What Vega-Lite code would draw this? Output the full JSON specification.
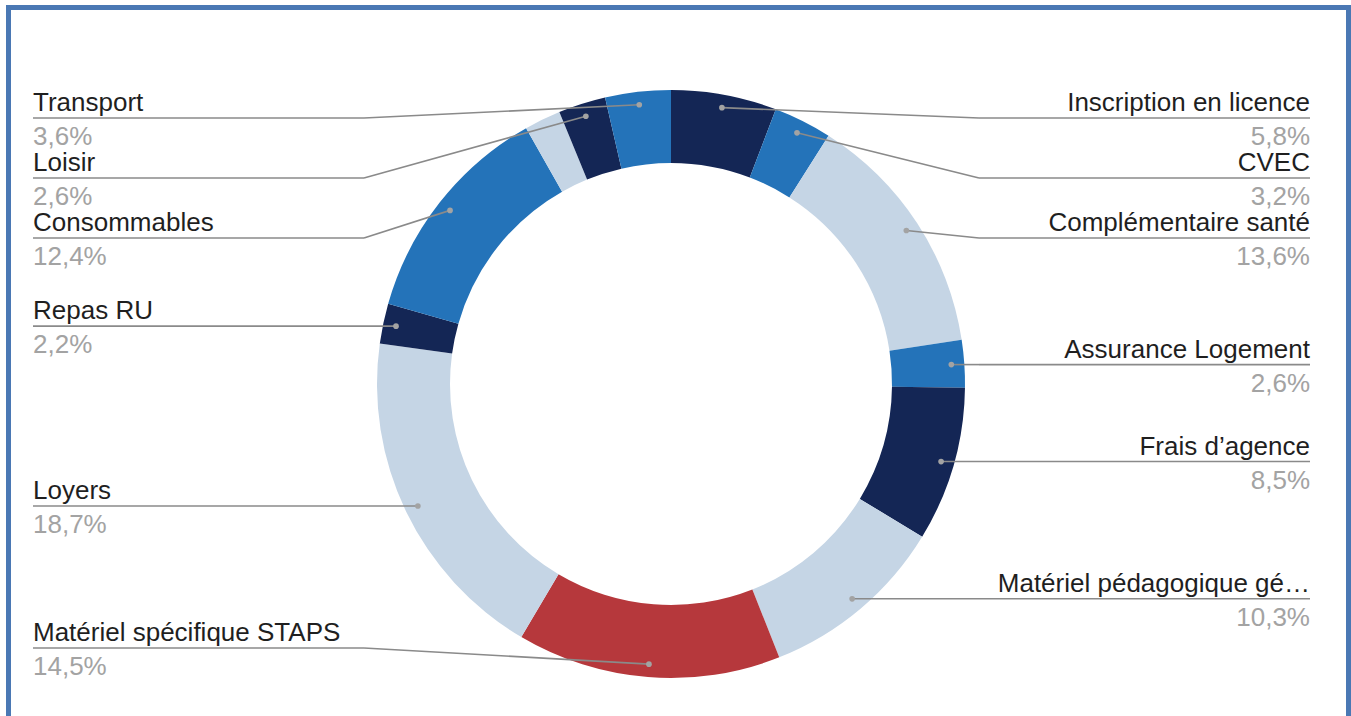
{
  "$schema": "https://vega.github.io/schema/vega-lite/v6.json",
  "width": 1340,
  "height": 711.5,
  "autosize": {"type": "none"},
  "padding": {"left": 8.5, "top": 7.5, "right": 2.5, "bottom": 0},
  "background": "white",
  "config": {
    "view": {"stroke": "#4a78b4", "strokeWidth": 5},
    "font": "Liberation Sans"
  },
  "data": {
    "values": [
      {"cat": "Inscription en licence", "value": 5.8},
      {"cat": "CVEC", "value": 3.2},
      {"cat": "Complémentaire santé", "value": 13.6},
      {"cat": "Assurance Logement", "value": 2.6},
      {"cat": "Frais d’agence", "value": 8.5},
      {"cat": "Matériel pédagogique gé…", "value": 10.3},
      {"cat": "Matériel spécifique STAPS", "value": 14.5},
      {"cat": "Loyers", "value": 18.7},
      {"cat": "Repas RU", "value": 2.2},
      {"cat": "Consommables", "value": 12.4},
      {"cat": "Autres", "value": 2.0},
      {"cat": "Loisir", "value": 2.6},
      {"cat": "Transport", "value": 3.6}
    ]
  },
  "transform": [
    {"window": [{"op": "row_number", "as": "idx"}]},
    {"joinaggregate": [{"op": "sum", "field": "value", "as": "total"}]},
    {"window": [{"op": "sum", "field": "value", "as": "cum"}], "sort": [{"field": "idx"}], "frame": [null, 0]},
    {"calculate": "(datum.cum - datum.value / 2) / datum.total * 2 * PI", "as": "mid"},
    {"calculate": "671 + 281 * sin(datum.mid)", "as": "dotX"},
    {"calculate": "384 - 281 * cos(datum.mid)", "as": "dotY"},
    {"calculate": "datum.mid < PI ? 'right' : 'left'", "as": "side"},
    {"calculate": "replace(format(datum.value, '.1f'), '.', ',') + '%'", "as": "pct"}
  ],
  "layer": [
    {
      "mark": {"type": "arc", "outerRadius": 294, "innerRadius": 221, "stroke": null},
      "encoding": {
        "x": {"datum": 671, "type": "quantitative", "scale": {"domain": [8.5, 1348.5], "nice": false, "zero": false}, "axis": null},
        "y": {"datum": 384, "type": "quantitative", "scale": {"domain": [7.5, 719], "nice": false, "zero": false, "reverse": true}, "axis": null},
        "theta": {"field": "value", "type": "quantitative", "stack": true},
        "order": {"field": "idx", "type": "quantitative"},
        "color": {
          "field": "cat",
          "type": "nominal",
          "scale": {
            "domain": ["Inscription en licence", "CVEC", "Complémentaire santé", "Assurance Logement", "Frais d’agence", "Matériel pédagogique gé…", "Matériel spécifique STAPS", "Loyers", "Repas RU", "Consommables", "Autres", "Loisir", "Transport"],
            "range": ["#142655", "#2473b9", "#c5d5e5", "#2473b9", "#142655", "#c5d5e5", "#b6383c", "#c5d5e5", "#142655", "#2473b9", "#c5d5e5", "#142655", "#2473b9"]
          },
          "legend": null
        }
      }
    },
    {
      "transform": [
        {"filter": "datum.cat != 'Autres'"},
        {"window": [{"op": "row_number", "as": "rk"}], "groupby": ["side"], "sort": [{"field": "dotY"}]},
        {"calculate": "min(max(datum.dotY, 118 + (datum.rk - 1) * 60), 648)", "as": "lineY"},
        {"calculate": "datum.side == 'left' ? 33 : 1310", "as": "labelX"},
        {"calculate": "datum.side == 'left' ? 364 : 979", "as": "kneeX"}
      ],
      "layer": [
        {
          "mark": {"type": "rule", "color": "#8a8a8a", "strokeWidth": 1.6},
          "encoding": {
            "x": {"field": "labelX", "type": "quantitative", "scale": {"domain": [8.5, 1348.5], "nice": false, "zero": false}, "axis": null},
            "x2": {"field": "kneeX"},
            "y": {"field": "lineY", "type": "quantitative", "scale": {"domain": [7.5, 719], "nice": false, "zero": false, "reverse": true}, "axis": null},
            "y2": {"field": "lineY"}
          }
        },
        {
          "mark": {"type": "rule", "color": "#8a8a8a", "strokeWidth": 1.6},
          "encoding": {
            "x": {"field": "kneeX", "type": "quantitative"},
            "x2": {"field": "dotX"},
            "y": {"field": "lineY", "type": "quantitative"},
            "y2": {"field": "dotY"}
          }
        },
        {
          "mark": {"type": "point", "filled": true, "size": 32, "color": "#a3a3a3", "opacity": 1},
          "encoding": {
            "x": {"field": "dotX", "type": "quantitative"},
            "y": {"field": "dotY", "type": "quantitative"}
          }
        },
        {
          "transform": [{"filter": "datum.side == 'left'"}],
          "mark": {"type": "text", "align": "left", "baseline": "alphabetic", "dy": -7, "fontSize": 26, "color": "#1f1f1f"},
          "encoding": {
            "x": {"field": "labelX", "type": "quantitative"},
            "y": {"field": "lineY", "type": "quantitative"},
            "text": {"field": "cat"}
          }
        },
        {
          "transform": [{"filter": "datum.side == 'left'"}],
          "mark": {"type": "text", "align": "left", "baseline": "alphabetic", "dy": 27, "fontSize": 26, "color": "#a3a3a3"},
          "encoding": {
            "x": {"field": "labelX", "type": "quantitative"},
            "y": {"field": "lineY", "type": "quantitative"},
            "text": {"field": "pct"}
          }
        },
        {
          "transform": [{"filter": "datum.side == 'right'"}],
          "mark": {"type": "text", "align": "right", "baseline": "alphabetic", "dy": -7, "fontSize": 26, "color": "#1f1f1f"},
          "encoding": {
            "x": {"field": "labelX", "type": "quantitative"},
            "y": {"field": "lineY", "type": "quantitative"},
            "text": {"field": "cat"}
          }
        },
        {
          "transform": [{"filter": "datum.side == 'right'"}],
          "mark": {"type": "text", "align": "right", "baseline": "alphabetic", "dy": 27, "fontSize": 26, "color": "#a3a3a3"},
          "encoding": {
            "x": {"field": "labelX", "type": "quantitative"},
            "y": {"field": "lineY", "type": "quantitative"},
            "text": {"field": "pct"}
          }
        }
      ]
    }
  ]
}
